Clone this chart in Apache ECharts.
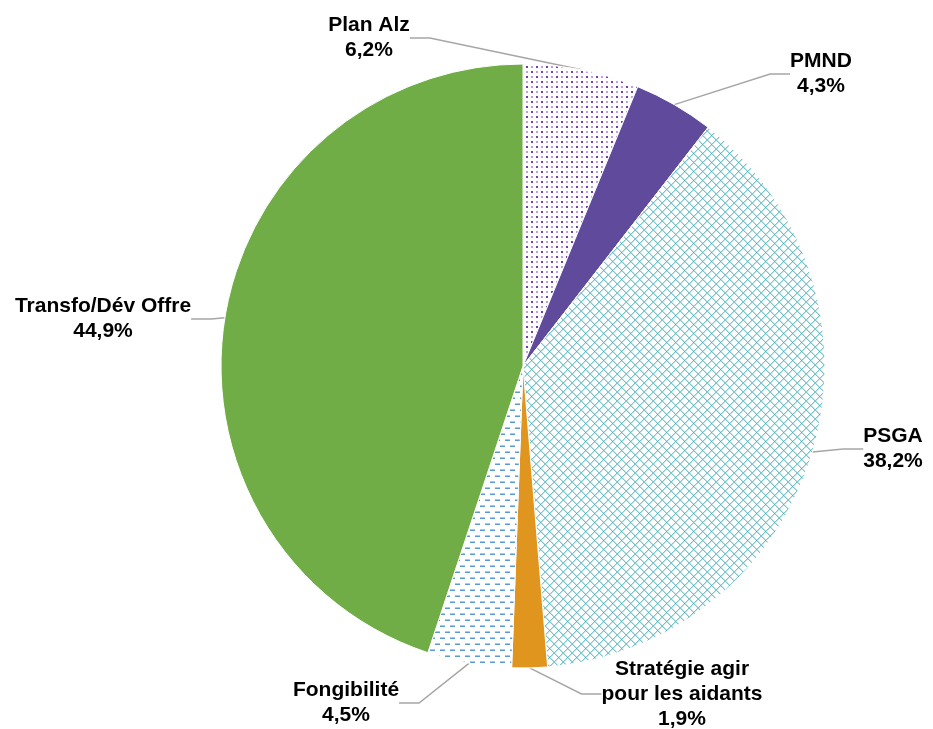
<!DOCTYPE html>
<html>
<head>
<meta charset="utf-8">
<script src="https://cdn.jsdelivr.net/npm/echarts@6/dist/echarts.min.js"></script>
<style>
  html, body { margin: 0; padding: 0; background: #fff; }
  #chart { width: 933px; height: 729px; }
</style>
</head>
<body>
<div id="chart"></div>
<script>
// parts du financement, dans le sens horaire depuis le haut
const categories = ['Plan Alz', 'PMND', 'PSGA', 'Stratégie agir\npour les aidants', 'Fongibilité', 'Transfo/Dév Offre'];
const values = [6.2, 4.3, 38.2, 1.9, 4.5, 44.9];

// petits motifs de remplissage (comme dans Excel)
function makeTile(w, h, draw) {
    const c = document.createElement('canvas');
    c.width = w; c.height = h;
    const ctx = c.getContext('2d');
    ctx.fillStyle = '#fff';
    ctx.fillRect(0, 0, w, h);
    draw(ctx);
    return { image: c, repeat: 'repeat' };
}

const dotsPurple = makeTile(10, 10, ctx => {
    ctx.fillStyle = '#7a3bb0';
    ctx.fillRect(1, 1, 2, 2);
    ctx.fillRect(6, 6, 2, 2);
    ctx.fillStyle = '#bfa0dc';
    ctx.fillRect(6, 1, 2, 2);
    ctx.fillRect(1, 6, 2, 2);
});

const latticeTeal = makeTile(9, 9, ctx => {
    for (let x = 0; x < 9; x++) {
        for (let y = 0; y < 9; y++) {
            const a = (x + y) % 9, b = ((x - y) + 9) % 9;
            if (a === 0 || b === 0) {
                ctx.fillStyle = (a === 0 && b === 0) ? '#4fadb7' : '#7cc4cc';
                ctx.fillRect(x, y, 1, 1);
            } else if (a === 1 || b === 1) {
                ctx.fillStyle = '#c3e5e8';
                ctx.fillRect(x, y, 1, 1);
            }
        }
    }
});

const dashesBlue = makeTile(10, 12, ctx => {
    ctx.fillStyle = '#a9c9ea';
    ctx.fillRect(0, 1, 5, 1);
    ctx.fillRect(5, 7, 5, 1);
    ctx.fillStyle = '#5b9bd5';
    ctx.fillRect(0, 2, 5, 1);
    ctx.fillRect(5, 8, 5, 1);
});

const fills = [dotsPurple, '#604a9b', latticeTeal, '#e0951e', dashesBlue, '#70ad47'];
// positions des étiquettes (centre du texte)
const labelPos = [[369, 38], [821, 74], [893, 449], [682, 694], [346, 703], [103, 319]];

const chart = echarts.init(document.getElementById('chart'));
const option = {
    animation: false,
    series: [{
        type: 'pie',
        center: [523, 366],
        radius: 302,
        startAngle: 90,
        clockwise: true,
        data: categories.map((c, i) => ({
            name: c,
            value: values[i],
            itemStyle: { color: fills[i] }
        })),
        itemStyle: { borderColor: '#fff', borderWidth: 1 },
        label: {
            show: true,
            formatter: p => p.name + '\n' + p.value.toFixed(1).replace('.', ',') + '%',
            fontFamily: 'Liberation Sans, Arial, sans-serif',
            fontWeight: 'bold',
            fontSize: 21,
            lineHeight: 25,
            color: '#000',
            align: 'center',
            overflow: 'none'
        },
        labelLine: {
            show: true,
            length: 20,
            length2: 20,
            lineStyle: { color: '#a6a6a6', width: 1.5 }
        },
        labelLayout: params => ({
            x: labelPos[params.dataIndex][0],
            y: labelPos[params.dataIndex][1],
            align: 'center',
            verticalAlign: 'middle'
        })
    }]
};
option && chart.setOption(option);
window.onresize = () => { chart.resize(); };
</script>
</body>
</html>
